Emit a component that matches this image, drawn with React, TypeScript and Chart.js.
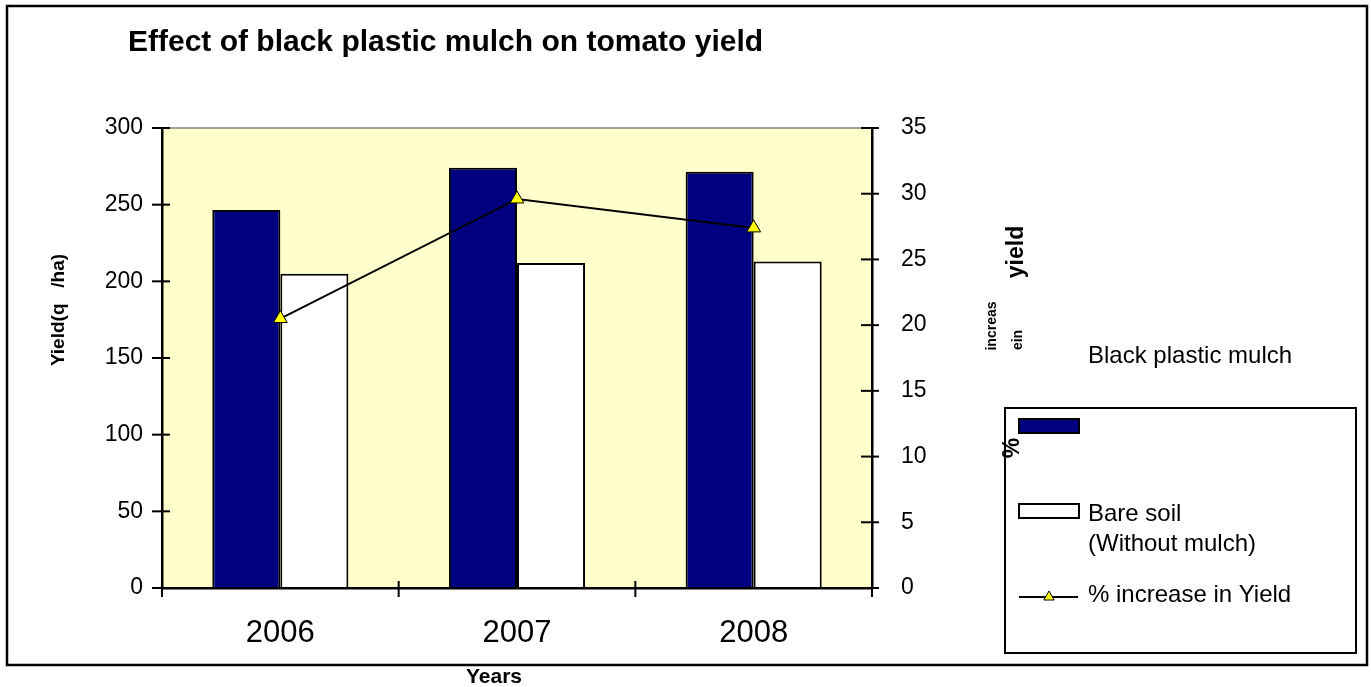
import React, { useEffect, useRef } from "react";
import { Chart, registerables } from "chart.js";

Chart.register(...registerables);

// ---- data ----
const years = ["2006", "2007", "2008"];
const mulchYield = [246.5, 274, 271.5];
const bareYield = [205, 212, 213];
const pctIncrease = [20.5, 29.6, 27.4];

const seriesLabels = ["Black plastic mulch", "Bare soil\n(Without mulch)", "% increase in Yield"];
const titleText = "Effect of black plastic mulch on tomato yield";
const leftAxisTitle = "Yield(q   /ha)";
const xAxisTitle = "Years";
const rightAxisFragments = ["yield", "increas", "ein", "%"];

const FONT = "'Liberation Sans', Arial, Helvetica, sans-serif";
const NAVY = "#000080";
const PLOT_BG = "#FFFFCC";

function triangle(ctx: CanvasRenderingContext2D, x: number, y: number, r: number) {
  const h = (r * 3) / 2;
  const s = (r * 3) / Math.sqrt(3);
  ctx.beginPath();
  ctx.moveTo(x - s / 2, y + h / 3);
  ctx.lineTo(x + s / 2, y + h / 3);
  ctx.lineTo(x, y - (2 * h) / 3);
  ctx.closePath();
  ctx.fillStyle = "#FFFF00";
  ctx.fill();
  ctx.strokeStyle = "#000";
  ctx.lineWidth = 1;
  ctx.stroke();
}

function rotText(ctx: CanvasRenderingContext2D, text: string, x: number, y: number, font: string) {
  ctx.save();
  ctx.translate(x, y);
  ctx.rotate(-Math.PI / 2);
  ctx.font = font;
  ctx.textAlign = "center";
  ctx.textBaseline = "middle";
  ctx.fillStyle = "#000";
  ctx.fillText(text, 0, 0);
  ctx.restore();
}

const decor = {
  id: "decor",
  beforeDraw(chart: any) {
    const { ctx, chartArea: a, width, height } = chart;
    ctx.save();
    ctx.fillStyle = "#fff";
    ctx.fillRect(0, 0, width, height);
    ctx.fillStyle = PLOT_BG;
    ctx.fillRect(a.left, a.top, a.right - a.left, a.bottom - a.top);
    ctx.strokeStyle = "#808080";
    ctx.lineWidth = 1.5;
    ctx.beginPath();
    ctx.moveTo(a.left, a.top);
    ctx.lineTo(a.right, a.top);
    ctx.stroke();
    ctx.restore();
  },
  afterDraw(chart: any) {
    const { ctx } = chart;
    const ys = chart.scales.y;
    const y2 = chart.scales.y2;
    const xs = chart.scales.x;
    ctx.save();
    ctx.strokeStyle = "#000";
    ctx.lineWidth = 2;
    const line = (x1: number, y1: number, x2: number, yb: number) => {
      ctx.beginPath();
      ctx.moveTo(x1, y1);
      ctx.lineTo(x2, yb);
      ctx.stroke();
    };
    // cross tick marks
    ys.ticks.forEach((_: any, i: number) => {
      const p = ys.getPixelForTick(i);
      line(ys.right - 10, p, ys.right + 8, p);
    });
    y2.ticks.forEach((_: any, i: number) => {
      const p = y2.getPixelForTick(i);
      line(y2.left - 11, p, y2.left + 7, p);
    });
    for (let i = 0; i <= years.length; i++) {
      const p = xs.getPixelForValue(i - 0.5);
      line(p, xs.top - 7, p, xs.top + 9);
    }

    // outer frame
    ctx.lineWidth = 2.5;
    ctx.strokeRect(7, 6, 1360, 659);

    // title
    ctx.fillStyle = "#000";
    ctx.font = `bold 30px ${FONT}`;
    ctx.textAlign = "left";
    ctx.textBaseline = "alphabetic";
    ctx.fillText(titleText, 128, 51);

    // axis titles
    rotText(ctx, leftAxisTitle, 59, 310, `bold 19px ${FONT}`);
    ctx.font = `bold 21px ${FONT}`;
    ctx.textAlign = "center";
    ctx.textBaseline = "middle";
    ctx.fillText(xAxisTitle, 494, 677);

    // garbled right-axis title fragments
    rotText(ctx, rightAxisFragments[0], 1017, 252, `bold 23px ${FONT}`);
    rotText(ctx, rightAxisFragments[1], 992, 326, `bold 14px ${FONT}`);
    rotText(ctx, rightAxisFragments[2], 1018, 340, `bold 14px ${FONT}`);

    // legend box
    ctx.lineWidth = 2;
    ctx.strokeStyle = "#000";
    ctx.strokeRect(1005, 408, 351, 245);

    const ds = chart.data.datasets;
    // swatches
    ctx.fillStyle = ds[0].backgroundColor;
    ctx.fillRect(1019, 419, 60, 14);
    ctx.strokeRect(1019, 419, 60, 14);
    ctx.fillStyle = ds[1].backgroundColor;
    ctx.fillRect(1019, 504, 60, 14);
    ctx.strokeRect(1019, 504, 60, 14);
    line(1019, 597, 1078, 597);
    triangle(ctx, 1049, 597, 6);

    rotText(ctx, rightAxisFragments[3], 1013, 448, `bold 23px ${FONT}`);

    ctx.fillStyle = "#000";
    ctx.font = `24px ${FONT}`;
    ctx.textAlign = "left";
    ctx.textBaseline = "middle";
    ctx.fillText(ds[0].label, 1088, 356);
    const bare = String(ds[1].label).split("\n");
    ctx.fillText(bare[0], 1088, 514);
    ctx.fillText(bare[1], 1088, 544);
    ctx.fillText(ds[2].label, 1088, 595);
    ctx.restore();
  },
};

export default function App() {
  const ref = useRef<HTMLCanvasElement | null>(null);
  useEffect(() => {
    if (!ref.current) return;
    const chart = new Chart(ref.current, {
      type: "bar",
      data: {
        labels: years,
        datasets: [
          {
            type: "bar",
            label: seriesLabels[0],
            data: mulchYield,
            backgroundColor: NAVY,
            borderColor: "#000",
            borderWidth: 2,
            yAxisID: "y",
            order: 1,
            categoryPercentage: 0.575,
            barPercentage: 1,
          },
          {
            type: "bar",
            label: seriesLabels[1],
            data: bareYield,
            backgroundColor: "#FFFFFF",
            borderColor: "#000",
            borderWidth: 2,
            yAxisID: "y",
            order: 1,
            categoryPercentage: 0.575,
            barPercentage: 1,
          },
          {
            type: "line",
            label: seriesLabels[2],
            data: pctIncrease,
            borderColor: "#000",
            borderWidth: 2,
            tension: 0,
            pointStyle: "triangle",
            pointRadius: 8,
            pointBackgroundColor: "#FFFF00",
            pointBorderColor: "#000",
            pointBorderWidth: 1,
            yAxisID: "y2",
            order: 0,
          } as any,
        ],
      },
      options: {
        responsive: false,
        animation: false,
        layout: { padding: { left: 0, right: 0, top: 128, bottom: 0 } },
        plugins: {
          legend: { display: false },
          title: { display: false },
          tooltip: { enabled: false },
        },
        scales: {
          x: {
            offset: true,
            grid: { display: false },
            border: { display: true, color: "#000", width: 2.5, z: 1 },
            ticks: {
              color: "#000",
              font: { family: FONT, size: 31, lineHeight: 1.2 },
              padding: 19,
              maxRotation: 0,
              autoSkip: false,
            },
            afterFit: (s: any) => {
              s.height = 99;
            },
          },
          y: {
            position: "left",
            min: 0,
            max: 300,
            grid: { display: false },
            border: { display: true, color: "#000", width: 2.5 },
            ticks: {
              stepSize: 50,
              color: "#000",
              font: { family: FONT, size: 23 },
              padding: 11,
            },
            afterFit: (s: any) => {
              s.width = 162;
            },
          },
          y2: {
            position: "right",
            min: 0,
            max: 35,
            grid: { display: false },
            border: { display: true, color: "#000", width: 2.5 },
            ticks: {
              stepSize: 5,
              color: "#000",
              font: { family: FONT, size: 23 },
              padding: 21,
            },
            afterFit: (s: any) => {
              s.width = 499;
            },
          },
        },
      },
      plugins: [decor],
    } as any);
    return () => chart.destroy();
  }, []);
  return (
    <div style={{ position: "fixed", left: 0, top: 0, width: 1371, height: 687, background: "#fff" }}>
      <canvas ref={ref} width={1371} height={687} style={{ display: "block", width: 1371, height: 687 }} />
    </div>
  );
}
